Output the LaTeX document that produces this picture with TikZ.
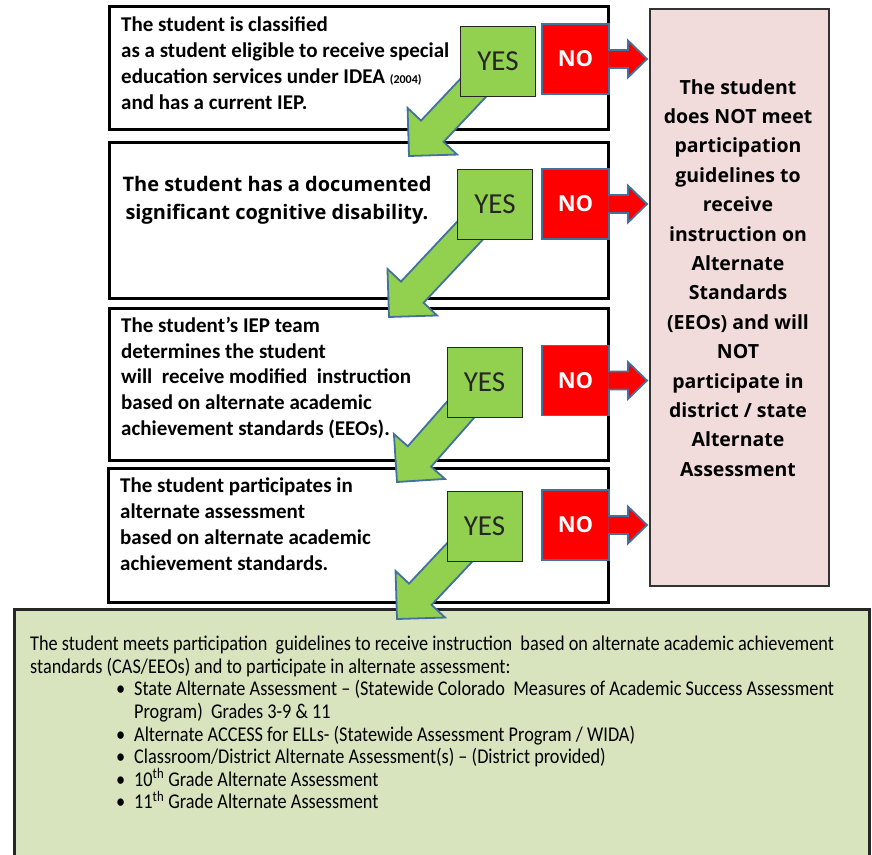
\documentclass[tikz,border=0pt]{standalone}
\usepackage{fontspec}
\setmainfont{Carlito}
\newfontfamily\wide{Open Sans}
\newfontfamily\narrow{Carlito}[FakeStretch=0.87]
\usetikzlibrary{calc}
\usetikzlibrary{positioning}

\definecolor{yesgreen}{RGB}{146,208,80}
\definecolor{nored}{RGB}{255,0,0}
\definecolor{edgeblue}{RGB}{65,113,156}
\definecolor{notpink}{RGB}{242,220,219}
\definecolor{meetsgreen}{RGB}{215,228,189}

\pgfdeclarelayer{bg}
\pgfdeclarelayer{mid}
\pgfsetlayers{bg,mid,main}

% green block arrow: from, tip
\newcommand{\yesarrow}[2]{%
  \path ($(#2)!34pt!(#1)$) coordinate (hb);
  \draw[greenarrow] ($(#1)!15.5pt!90:(#2)$) -- ($(hb)!15.5pt!90:(#2)$)
    -- ($(hb)!34pt!90:(#2)$) -- (#2) -- ($(hb)!34pt!-90:(#2)$)
    -- ($(hb)!15.5pt!-90:(#2)$) -- ($(#1)!15.5pt!-90:(#2)$) -- cycle;
}
% red arrow out of a NO box, up to the pink box
\newcommand{\noarrow}[1]{%
  \coordinate (#1tip) at ($(pink.west |- #1.east)+(-2,0)$);
  \filldraw[redarrow] ($(#1.east)+(-1.5,-9)$) -- ($(#1.east)+(18,-9)$)
    -- ($(#1.east)+(18,-18.5)$) -- (#1tip) -- ($(#1.east)+(18,18.5)$)
    -- ($(#1.east)+(18,9)$) -- ($(#1.east)+(-1.5,9)$);
}
\newcommand{\bul}{\hspace*{86pt}\makebox[18pt][l]{\textbullet}}

\begin{document}
\begin{tikzpicture}[x=1pt,y=-1pt,
  qbox/.style={draw=black,line width=2.5pt,fill=white,anchor=north west,inner sep=0pt},
  qtext/.style={anchor=north west,align=left,inner sep=0pt,font=\bfseries\fontsize{21}{25.7}\selectfont},
  widetext/.style={align=center,inner sep=0pt,font=\wide\bfseries\fontsize{19.5}{29.4}\selectfont},
  yesbox/.style={draw=black!85,line width=1pt,fill=yesgreen,minimum width=75pt,minimum height=70pt,inner sep=0pt,font=\fontsize{29}{29}\selectfont,text=black!85},
  nobox/.style={draw=edgeblue,line width=1.8pt,fill=nored,minimum width=67pt,minimum height=70pt,inner sep=0pt,font=\wide\bfseries\fontsize{22}{22}\selectfont,text=white},
  greenarrow/.style={draw=edgeblue,line width=1.8pt,fill=yesgreen},
  redarrow/.style={draw=edgeblue,line width=1.8pt,fill=nored},
  meetstext/.style={anchor=north west,align=left,inner sep=0pt,font=\narrow\fontsize{21}{22.6}\selectfont}]
  \path[use as bounding box] (0,0) rectangle (872,854);

  \begin{pgfonlayer}{bg}
  \node[qbox,minimum width=499pt,minimum height=123pt] (q1) at (108,5) {};
  \node[qbox,minimum width=499pt,minimum height=156pt] (q2) at (108,141) {};
  \node[qbox,minimum width=499pt,minimum height=152pt] (q3) at (108,307) {};
  \node[qbox,minimum width=500pt,minimum height=134pt] (q4) at (107,467) {};
  \node[draw=black!80,line width=1.5pt,fill=notpink,anchor=north west,minimum width=179pt,minimum height=577pt] (pink) at (649,8) {};
  \node[draw=black!85,line width=3pt,fill=meetsgreen,anchor=north west,minimum width=855pt,minimum height=248pt] (meets) at (13,608) {};
  \end{pgfonlayer}

  \node[qtext] (q1txt) at (121,17) {The student is classified\\as a student eligible to receive special\\education services under IDEA {\fontsize{12}{12}\selectfont(2004)}\\and has a current IEP.};
  \node[widetext,anchor=north,font=\wide\bfseries\fontsize{20}{28.5}\selectfont] (q2txt) at (277,176) {The student has a documented\\significant cognitive disability.};
  \node[qtext] (q3txt) at (121,317) {The student’s IEP team\\determines the student\\will\ \ receive modified\ \ instruction\\based on alternate academic\\achievement standards (EEOs).};
  \node[qtext] (q4txt) at (120,478) {The student participates in\\alternate assessment\\based on alternate academic\\achievement standards.};
  \node[widetext,anchor=north] (pinktxt) at (738,79) {The student\\does NOT meet\\participation\\guidelines to\\receive\\instruction on\\Alternate\\Standards\\(EEOs) and will\\NOT\\participate in\\district / state\\Alternate\\Assessment};
  \node[meetstext] (meetstxt) at (30,636) {The student meets participation\ \ guidelines to receive instruction\ \ based on alternate academic achievement\\standards (CAS/EEOs) and to participate in alternate assessment:\\\bul State Alternate Assessment – (Statewide Colorado\ \ Measures of Academic Success Assessment\\\hspace*{104pt}Program)\ \ Grades 3-9 \& 11\\\bul Alternate ACCESS for ELLs- (Statewide Assessment Program / WIDA)\\\bul Classroom/District Alternate Assessment(s) – (District provided)\\\bul 10\textsuperscript{th} Grade Alternate Assessment\\\bul 11\textsuperscript{th} Grade Alternate Assessment};

  \node[yesbox] (yes1) at (498,61.5) {YES};
  \node[yesbox] (yes2) at (495,204) {YES};
  \node[yesbox] (yes3) at (484.5,382.5) {YES};
  \node[yesbox] (yes4) at (484.5,526) {YES};
  \node[nobox] (no1) at (575.5,59) {NO};
  \node[nobox] (no2) at (575.5,204) {NO};
  \node[nobox] (no3) at (575.5,380.5) {NO};
  \node[nobox] (no4) at (575.5,525) {NO};

  \coordinate (t1) at (409,156);
  \coordinate (t2) at (389,317);
  \coordinate (t3) at (397,482);
  \coordinate (t4) at (397,619);
  \begin{pgfonlayer}{mid}
  \yesarrow{yes1.center}{t1}
  \yesarrow{yes2.center}{t2}
  \yesarrow{yes3.center}{t3}
  \yesarrow{yes4.center}{t4}
  \end{pgfonlayer}

  \noarrow{no1}
  \noarrow{no2}
  \noarrow{no3}
  \noarrow{no4}
\end{tikzpicture}
\end{document}
